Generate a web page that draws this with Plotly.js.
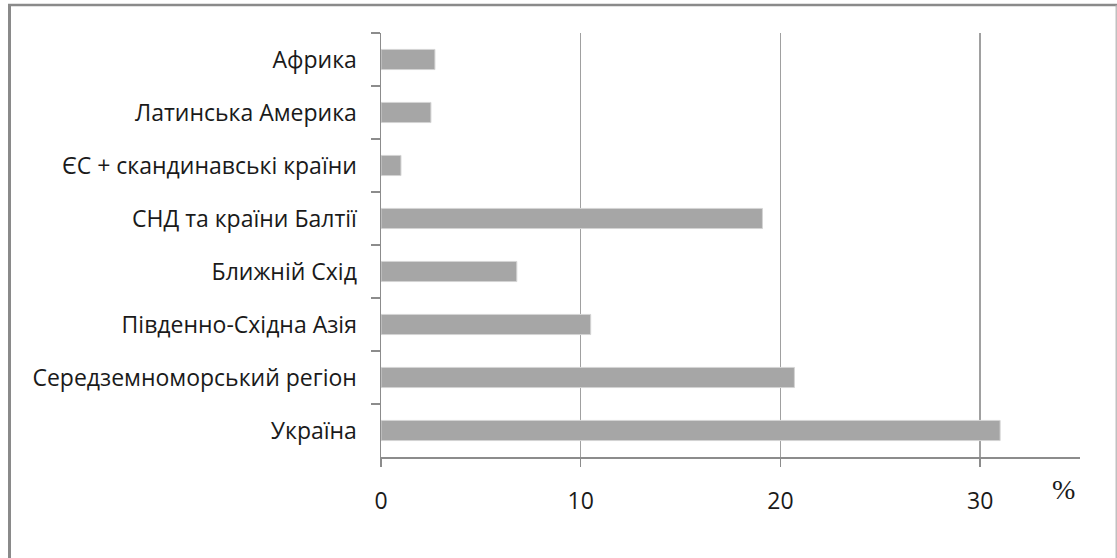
<!DOCTYPE html>
<html>
<head>
<meta charset="utf-8">
<script src="https://cdn.plot.ly/plotly-3.0.1.min.js"></script>
<style>
html,body{margin:0;padding:0;background:#fff;}
#chart{width:1117px;height:558px;}
</style>
</head>
<body>
<div id="chart"></div>
<script>
// Categories listed top to bottom as in the picture
const categories = [
  "Африка",
  "Латинська Америка",
  "ЄС + скандинавські країни",
  "СНД та країни Балтії",
  "Ближній Схід",
  "Південно-Східна Азія",
  "Середземноморський регіон",
  "Україна"
];
const values = [2.7, 2.5, 1.0, 19.1, 6.8, 10.5, 20.7, 31.0];
const xTickValues = [0, 10, 20, 30];
const xTickLabels = ["0", "10", "20", "30"];
const unitLabel = "%";

const W = 1117, H = 558;
const L = 381, R = 37, T = 33, B = 101;
const pw = W - L - R, ph = H - T - B;
const px = v => (v - L) / pw;
const py = v => (H - B - v) / ph;

const trace = {
  type: "bar",
  orientation: "h",
  x: values,
  y: categories,
  marker: { color: "#a6a6a6", line: { color: "#d4d4d4", width: 1 } },
  hoverinfo: "none"
};

const layout = {
  width: W, height: H,
  margin: { l: L, r: R, t: T, b: B, pad: 0 },
  paper_bgcolor: "#ffffff",
  plot_bgcolor: "#ffffff",
  showlegend: false,
  bargap: 0.62,
  font: { family: "Open Sans, sans-serif", size: 23, color: "#1a1a1a" },
  xaxis: {
    range: [0, 35],
    tickvals: xTickValues,
    ticktext: xTickLabels,
    showgrid: true,
    gridcolor: "#a0a0a0",
    gridwidth: 1.5,
    zeroline: false,
    showline: true,
    linecolor: "#8c8c8c",
    linewidth: 1.5,
    ticks: "outside",
    ticklen: 8,
    tickwidth: 1.5,
    tickcolor: "#8c8c8c",
    ticklabelstandoff: 15,
    tickfont: { family: "Open Sans, sans-serif", size: 23, color: "#1a1a1a" },
    fixedrange: true
  },
  yaxis: {
    type: "category",
    autorange: false,
    range: [categories.length - 0.5, -0.5],
    showgrid: false,
    zeroline: false,
    showline: true,
    linecolor: "#8c8c8c",
    linewidth: 1.5,
    ticks: "outside",
    tickson: "boundaries",
    ticklen: 9,
    tickwidth: 1.5,
    tickcolor: "#8c8c8c",
    ticklabelstandoff: 18,
    tickfont: { family: "Open Sans, sans-serif", size: 23, color: "#1a1a1a" },
    fixedrange: true
  },
  annotations: [{
    text: unitLabel,
    xref: "paper", yref: "paper",
    x: px(1063), y: py(489),
    xanchor: "center", yanchor: "middle",
    showarrow: false,
    font: { family: "Liberation Serif, serif", size: 28, color: "#1a1a1a" }
  }],
  shapes: [
    { type: "line", xref: "paper", yref: "paper", x0: px(9.5), x1: px(9.5), y0: py(4.5), y1: py(600), line: { color: "#8a8a8a", width: 3 } },
    { type: "line", xref: "paper", yref: "paper", x0: px(8), x1: px(1117), y0: py(5), y1: py(5), line: { color: "#8a8a8a", width: 2.5 } },
    { type: "line", xref: "paper", yref: "paper", x0: px(1116.2), x1: px(1116.2), y0: py(5), y1: py(600), line: { color: "#b0b0b0", width: 1.2 } }
  ]
};

Plotly.newPlot("chart", [trace], layout, { staticPlot: true, displayModeBar: false });
</script>
</body>
</html>
